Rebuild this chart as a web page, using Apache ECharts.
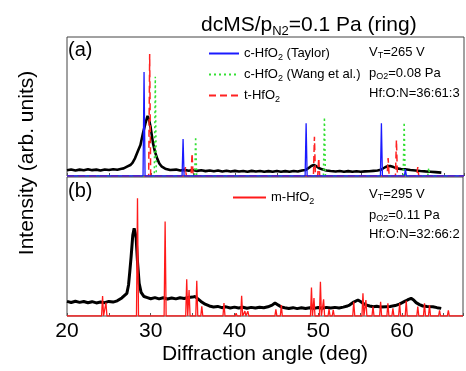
<!DOCTYPE html>
<html><head><meta charset="utf-8">
<script src="https://cdn.jsdelivr.net/npm/echarts@6/dist/echarts.min.js"></script>
<style>html,body{margin:0;padding:0;background:#fff}#c{width:466px;height:371px}</style>
</head><body><div id="c"></div><script>
const FONT = 'Liberation Sans, Arial, Helvetica, sans-serif';

// ---- measured pattern, panel (a) ----
const angleA = [20,20.5,21,21.5,22,22.5,23,23.5,24,24.5,25,25.5,26,26.5,26.75,27.15,27.55,27.8,28.1,28.45,28.75,29.05,29.35,29.6,29.8,29.95,30.25,30.5,30.75,31.0,31.3,31.7,32.3,33,33.5,34,34.5,35,35.5,36,36.5,37,37.5,38,38.5,39,39.5,40,40.5,41,41.5,42,42.5,43,43.5,44,44.5,45,45.5,46,46.5,47,47.5,48,48.4,48.8,49.1,49.4,49.7,50.0,50.4,50.9,51.4,52,52.5,53,53.5,54,54.5,55,55.5,56,56.5,57,57.4,57.9,58.2,58.5,58.9,59.3,59.8,60.3,60.9,61.5,62.1,62.7,63.3,63.9,64.6];
const intensityA = [4.2,4.7,4.0,4.6,4.1,4.8,4.2,4.6,4.0,4.7,4.3,4.9,4.5,5.2,5.5,6.7,7.9,9.5,12.7,18,22.3,30.7,38,43.2,40,35.5,23.5,17,12.5,9,6.7,5.3,4.3,4.6,3.9,4.4,3.8,4.3,3.7,4.1,3.5,4.0,3.4,3.9,3.3,3.8,3.2,3.7,3.2,3.6,3.1,3.7,3.2,3.6,3.0,3.5,3.0,3.6,3.1,3.5,3.0,3.6,3.2,3.9,4.3,5.8,7.2,7.9,7.0,5.8,4.8,4.0,3.6,3.2,3.6,3.1,3.5,3.0,3.4,3.0,3.3,3.4,3.7,4.0,4.5,6.3,7.0,7.2,6.4,5.5,5.0,4.8,4.3,4.0,3.6,3.3,3.1,2.8,2.4];

// ---- measured pattern, panel (b) ----
const angleB = [20,20.5,21,21.5,22,22.5,23,23.5,24,24.5,25,25.5,26,26.55,27.15,27.35,27.5,27.66,27.86,28.02,28.14,28.26,28.42,28.62,28.85,29.2,29.6,30,30.5,31,31.5,32,32.5,33,33.5,34,34.5,35,35.3,35.6,36,36.5,37,37.5,38,38.5,39,39.5,40,40.5,41,41.5,42,42.5,43,43.5,44,44.5,44.85,45.2,45.6,46,46.5,47,47.5,48,48.5,49,49.5,50,50.5,51,51.5,52,52.5,53,53.5,53.75,54.25,54.75,55.1,55.35,55.7,56.15,56.6,57,57.5,58.1,58.6,59.2,59.7,60.1,60.5,60.8,61.1,61.4,61.7,62.1,62.5,63,63.7,64.2,64.7];
const intensityB = [10.5,9.7,10.6,9.8,10.4,9.5,10.3,9.4,10.1,9.6,10.5,10.0,10.9,13.0,16.3,22.3,32,42.7,58.3,63.1,60,55.9,39.1,23.5,17,14,13.2,12.4,13.2,12.3,13.1,12.2,13.0,12.3,13.1,12.6,13.3,13.6,14.0,12.5,10.5,8.5,7.2,6.5,6.9,6.0,6.6,5.8,6.4,5.7,6.3,5.6,6.2,5.7,6.3,5.9,6.6,7.8,9.4,8.0,6.5,6.0,5.4,6.0,5.3,5.9,5.4,6.0,5.5,6.1,5.6,6.2,5.7,6.2,5.8,6.4,7.2,7.9,10,11.5,10.2,9.1,8,7.2,6.6,7.0,6.4,6.7,6.9,7.5,8.6,9.8,11,12,12.7,11.5,9.6,8.2,7.2,6.8,6.7,6.0,5.5];

// ---- reference patterns (peak positions / relative heights) ----
const taylorPos = [29.18,33.83,48.49,57.46,60.32];
const taylorInt = [74.8,26.6,37.9,37.9,5.0];
const wangPos = [30.52,35.33,50.67,60.17,63.1];
const wangInt = [71.4,28.3,42.2,38.6,5.8];
const tetraPos = [29.85,34.1,34.9,49.48,49.99,58.26,59.25,61.79];
const tetraInt = [87.8,6.5,16.3,28.3,12.9,12.9,25.9,6.5];
const monoPos = [24.25,24.65,28.42,31.72,34.3,34.58,35.5,36.1,38.75,40.2,40.86,41.25,41.6,44.95,45.6,49.2,49.5,50.27,50.65,51.3,51.8,54.25,55.35,55.7,56.55,57.46,58.33,58.93,59.73,60.52,61.9,62.7,63.3,64.5,65.55];
const monoInt = [14.4,9.6,84.7,67.9,26.4,18.7,25.4,7.0,9.3,2,14.5,3.5,3.5,4.8,7.9,20.5,13,24.7,12,5,4.5,10.3,16.3,11.5,6.7,10.3,9.1,5.5,9.1,11,6.7,9.1,7.9,4,4];

const xMin = 20, xMax = 67.3;
const xTickStep = 5;

function pairs(xs, ys){ return xs.map((x,i)=>[x, ys[i]]); }
function sticks(pos, h){
  const hw = 0.12;
  const out = [[xMin,0]];
  pos.forEach((p,i)=>{ out.push([p-hw,0],[p,h[i]],[p+hw,0]); });
  out.push([xMax,0]);
  return out;
}

const rich = {
  n: {fontSize: 13, fontFamily: FONT, color:'#000'},
  s: {fontSize: 9, fontFamily: FONT, color:'#000', padding:[8,0,0,0]}
};
const legendNames = {
  'c-HfO2 (Taylor)': '{n|c-HfO}{s|2}{n| (Taylor)}',
  'c-HfO2 (Wang et al.)': '{n|c-HfO}{s|2}{n| (Wang et al.)}',
  't-HfO2': '{n|t-HfO}{s|2}',
  'm-HfO2': '{n|m-HfO}{s|2}'
};
function mkLegend(name, left, top, w){
  return {data:[name], left, top, itemWidth:w, itemHeight:14, padding:0, selectedMode:false,
    itemStyle:{opacity:0, borderWidth:0},
    formatter: n => legendNames[n], textStyle:{rich, fontSize:13, fontFamily:FONT}};
}

const axisCommon = {
  type:'value', min:xMin, max:xMax, interval:xTickStep,
  axisLine:{show:false}, splitLine:{show:false},
  axisTick:{show:true, inside:true, length:3, lineStyle:{color:'#555'}}
};

const chart = echarts.init(document.getElementById('c'), null, {renderer:'canvas'});
chart.setOption({
  animation:false,
  backgroundColor:'#fff',
  textStyle:{fontFamily:FONT},
  title:{
    text:'{t|dcMS/p}{ts|N2}{t|=0.1 Pa (ring)}', left:196, top:8,
    textStyle:{fontWeight:'normal', rich:{t:{fontSize:21, fontWeight:'normal', fontFamily:FONT, color:'#000'}, ts:{fontSize:13, fontWeight:'normal', fontFamily:FONT, color:'#000', padding:[12,0,0,0]}}}
  },
  grid:[
    {left:67, right:2, top:37, height:139, show:true, borderColor:'#444', borderWidth:1},
    {left:67, right:2, top:177, height:139, show:true, borderColor:'#444', borderWidth:1}
  ],
  xAxis:[
    Object.assign({gridIndex:0, axisLabel:{show:false}}, axisCommon),
    Object.assign({gridIndex:1, name:'Diffraction angle (deg)', nameLocation:'middle', nameGap:28,
      nameTextStyle:{fontSize:21, color:'#000', fontFamily:FONT},
      axisLabel:{show:true, margin:5, fontSize:21, color:'#000', fontFamily:FONT,
        formatter: v => (Math.abs(v % 10) < 1e-9 ? String(v) : '')}}, axisCommon)
  ],
  yAxis:[
    {type:'value', gridIndex:0, min:0, max:100, show:false},
    {type:'value', gridIndex:1, min:0, max:100, show:false}
  ],
  legend:[
    mkLegend('c-HfO2 (Taylor)', 208, 47, 30),
    mkLegend('c-HfO2 (Wang et al.)', 208, 68, 30),
    mkLegend('t-HfO2', 208, 89, 30),
    mkLegend('m-HfO2', 232, 191, 33)
  ],
  series:[
    {name:'a-data', type:'line', xAxisIndex:0, yAxisIndex:0, data:pairs(angleA,intensityA), showSymbol:false, symbol:'none',
      lineStyle:{color:'#000', width:2.6}, z:2},
    {name:'b-data', type:'line', xAxisIndex:1, yAxisIndex:1, data:pairs(angleB,intensityB), showSymbol:false, symbol:'none',
      lineStyle:{color:'#000', width:3}, z:2},
    {name:'c-HfO2 (Taylor)', type:'line', xAxisIndex:0, yAxisIndex:0, data:sticks(taylorPos,taylorInt), symbol:'none',
      lineStyle:{color:'#1a1aff', width:1.3}, itemStyle:{color:'#1a1aff'}, z:4},
    {name:'c-HfO2 (Wang et al.)', type:'line', xAxisIndex:0, yAxisIndex:0, data:sticks(wangPos,wangInt), symbol:'none',
      lineStyle:{color:'#33e033', width:1.5, type:[2,3]}, itemStyle:{color:'#33e033'}, z:3},
    {name:'t-HfO2', type:'line', xAxisIndex:0, yAxisIndex:0, data:sticks(tetraPos,tetraInt), symbol:'none',
      lineStyle:{color:'#ff2222', width:1.5, type:[7,4]}, itemStyle:{color:'#ff2222'}, z:3},
    {name:'m-HfO2', type:'line', xAxisIndex:1, yAxisIndex:1, data:sticks(monoPos,monoInt), symbol:'none',
      lineStyle:{color:'#ff1a1a', width:1.3}, itemStyle:{color:'#ff1a1a'}, z:4}
  ],
  graphic:[
    {type:'text', x:68, y:50, style:{text:'(a)', fontSize:20, fontFamily:FONT, fill:'#000', verticalAlign:'middle'}},
    {type:'text', x:68, y:191, style:{text:'(b)', fontSize:20, fontFamily:FONT, fill:'#000', verticalAlign:'middle'}},
    {type:'text', x:27, y:163, rotation:Math.PI/2, style:{text:'Intensity (arb. units)', fontSize:21, fontFamily:FONT, fill:'#000', align:'center', verticalAlign:'middle'}},
    {type:'text', x:369, y:52, style:{text:'{n|V}{s|T}{n|=265 V}', rich, verticalAlign:'middle'}},
    {type:'text', x:369, y:73, style:{text:'{n|p}{s|O2}{n|=0.08 Pa}', rich, verticalAlign:'middle'}},
    {type:'text', x:369, y:93, style:{text:'{n|Hf:O:N=36:61:3}', rich, verticalAlign:'middle'}},
    {type:'text', x:369, y:194, style:{text:'{n|V}{s|T}{n|=295 V}', rich, verticalAlign:'middle'}},
    {type:'text', x:369, y:215, style:{text:'{n|p}{s|O2}{n|=0.11 Pa}', rich, verticalAlign:'middle'}},
    {type:'text', x:369, y:234, style:{text:'{n|Hf:O:N=32:66:2}', rich, verticalAlign:'middle'}}
  ]
});
</script></body></html>
